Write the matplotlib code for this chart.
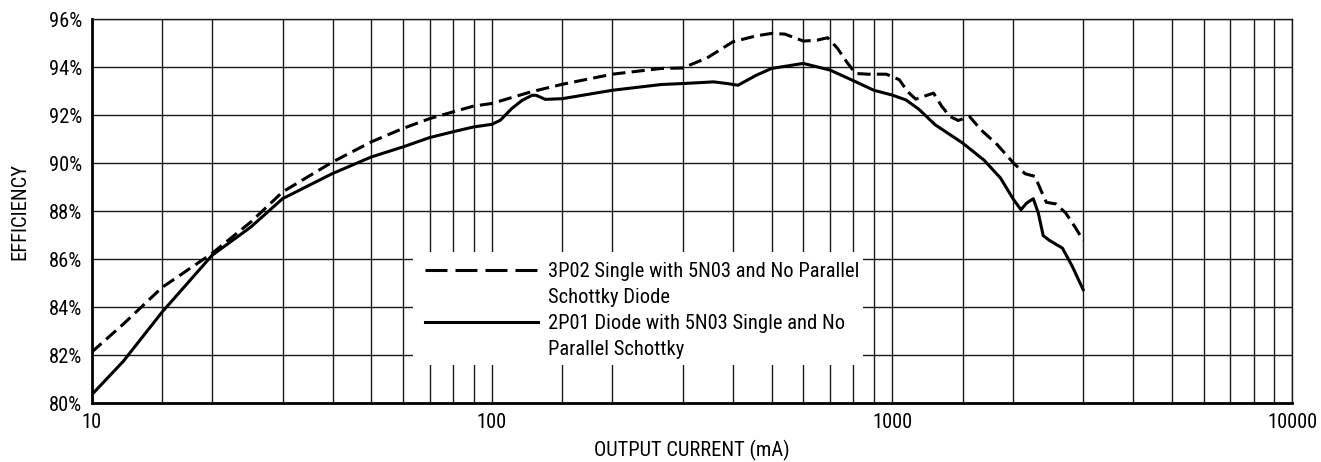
import matplotlib
matplotlib.use("Agg")
import matplotlib.pyplot as plt
from matplotlib import font_manager
from matplotlib.lines import Line2D
from matplotlib.patches import Rectangle
from matplotlib.ticker import FixedLocator, NullFormatter, FixedFormatter

# ---------------- data ----------------
current_3p02 = [10, 12, 15, 20, 25, 30, 40, 50, 60, 70, 80, 90, 100, 125, 150, 200,
                265, 300, 345, 400, 458, 500, 540, 600, 650, 690, 730, 770, 810, 870,
                967, 1042, 1092, 1145, 1211, 1269, 1330, 1394, 1462, 1560, 1667, 1831,
                2011, 2148, 2274, 2360, 2427, 2566, 2715, 2873, 3000]
eff_3p02 = [82.13, 83.3, 84.83, 86.25, 87.56, 88.81, 90.06, 90.90, 91.46, 91.87, 92.15,
            92.39, 92.5, 92.98, 93.3, 93.72, 93.96, 93.98, 94.4, 95.07, 95.32, 95.42,
            95.39, 95.1, 95.14, 95.24, 94.8, 94.23, 93.75, 93.72, 93.72, 93.49, 93.0,
            92.68, 92.82, 92.93, 92.38, 91.96, 91.79, 91.96, 91.4, 90.78, 90.01, 89.57,
            89.46, 88.83, 88.38, 88.31, 87.93, 87.31, 86.79]

current_2p01 = [10, 12, 15, 20, 25, 30, 40, 50, 60, 70, 80, 90, 100, 105, 112, 119, 126,
                129, 136, 150, 200, 265, 300, 358, 387, 412, 458, 500, 600, 700, 800, 900,
                1000, 1082, 1166, 1281, 1500, 1698, 1865, 2011, 2098, 2168, 2252, 2318,
                2384, 2472, 2663, 2818, 3000]
eff_2p01 = [80.35, 81.75, 83.8, 86.17, 87.35, 88.53, 89.58, 90.27, 90.69, 91.08, 91.32,
            91.52, 91.63, 91.8, 92.28, 92.63, 92.84, 92.84, 92.67, 92.7, 93.05, 93.29,
            93.33, 93.4, 93.33, 93.26, 93.68, 93.96, 94.17, 93.89, 93.45, 93.05, 92.85,
            92.65, 92.26, 91.61, 90.85, 90.13, 89.39, 88.49, 88.07, 88.35, 88.53, 87.93,
            86.99, 86.79, 86.47, 85.71, 84.74]

label_3p02 = ["3P02 Single with 5N03 and No Parallel", "Schottky Diode"]
label_2p01 = ["2P01 Diode with 5N03 Single and No", "Parallel Schottky"]

x_ticks = [10, 100, 1000, 10000]
x_ticklabels = ["10", "100", "1000", "10000"]
x_minor = [15, 20, 30, 40, 50, 60, 70, 80, 90,
           150, 200, 300, 400, 500, 600, 700, 800, 900,
           1500, 2000, 3000, 4000, 5000, 6000, 7000, 8000, 9000]
y_ticks = [80, 82, 84, 86, 88, 90, 92, 94, 96]
y_ticklabels = ["80%", "82%", "84%", "86%", "88%", "90%", "92%", "94%", "96%"]
x_label = "OUTPUT CURRENT (mA)"
y_label = "EFFICIENCY"

# ---------------- style ----------------
available = {f.name for f in font_manager.fontManager.ttflist}
font_choice = None
for name, size in [("Liberation Sans Narrow", 15), ("Arial Narrow", 15),
                   ("Roboto Condensed", 14.8), ("Archivo Narrow", 15),
                   ("PT Sans Narrow", 15.5)]:
    if name in available:
        font_choice = (name, size)
        break
if font_choice is None:
    font_choice = ("Liberation Sans", 13)
fam = [font_choice[0], "DejaVu Sans"]
fs = font_choice[1]
plt.rcParams["font.family"] = fam
plt.rcParams["lines.scale_dashes"] = False

fig = plt.figure(figsize=(13.21, 4.62), dpi=100)
ax = fig.add_axes([0.0693, 0.127, 0.9091, 0.8308])

ax.set_xscale("log")
ax.set_xlim(10, 10000)
ax.set_ylim(80, 96)

ax.xaxis.set_major_locator(FixedLocator(x_ticks))
ax.xaxis.set_major_formatter(FixedFormatter(x_ticklabels))
ax.xaxis.set_minor_locator(FixedLocator(x_minor))
ax.xaxis.set_minor_formatter(NullFormatter())
ax.yaxis.set_major_locator(FixedLocator(y_ticks))
ax.yaxis.set_major_formatter(FixedFormatter(y_ticklabels))

ax.set_axisbelow(True)
ax.grid(True, which="both", axis="x", color="#1a1a1a", linewidth=1.0)
ax.grid(True, which="major", axis="y", color="#1a1a1a", linewidth=1.0)
ax.tick_params(which="both", length=0, labelsize=fs, pad=7, colors="black")

for s in ["left", "bottom"]:
    ax.spines[s].set_linewidth(2.0)
for s in ["top", "right"]:
    ax.spines[s].set_linewidth(1.0)
    ax.spines[s].set_color("#1a1a1a")

# white area for the legend (blocks the grid)
ax.add_patch(Rectangle((0.2677, 0.0998), 0.3747, 0.2942, transform=ax.transAxes,
                       facecolor="white", edgecolor="none", zorder=1))

lw = 2.2
ax.plot(current_3p02, eff_3p02, color="black", linewidth=lw,
        dashes=(9.5, 4.5), zorder=3)
ax.plot(current_2p01, eff_2p01, color="black", linewidth=lw, zorder=3)

h_dash = Line2D([], [], color="black", linewidth=lw, dashes=(15.8, 5.8))
h_solid = Line2D([], [], color="black", linewidth=lw)
h_none = Line2D([], [], color="none", linewidth=0)
fs_px = fs * 100 / 72.0
leg = ax.legend([h_dash, h_none, h_solid, h_none],
                [label_3p02[0], label_3p02[1], label_2p01[0], label_2p01[1]],
                loc="upper left", bbox_to_anchor=(0.2777, 0.368),
                frameon=False, fontsize=fs, handlelength=113 / fs_px,
                handletextpad=10 / fs_px, labelspacing=0.34,
                borderaxespad=0, borderpad=0)
leg.set_zorder(5)

ax.set_xlabel(x_label, fontsize=fs, labelpad=6)
ax.set_ylabel(y_label, fontsize=fs, labelpad=14)

fig.savefig("out.png", dpi=100)
